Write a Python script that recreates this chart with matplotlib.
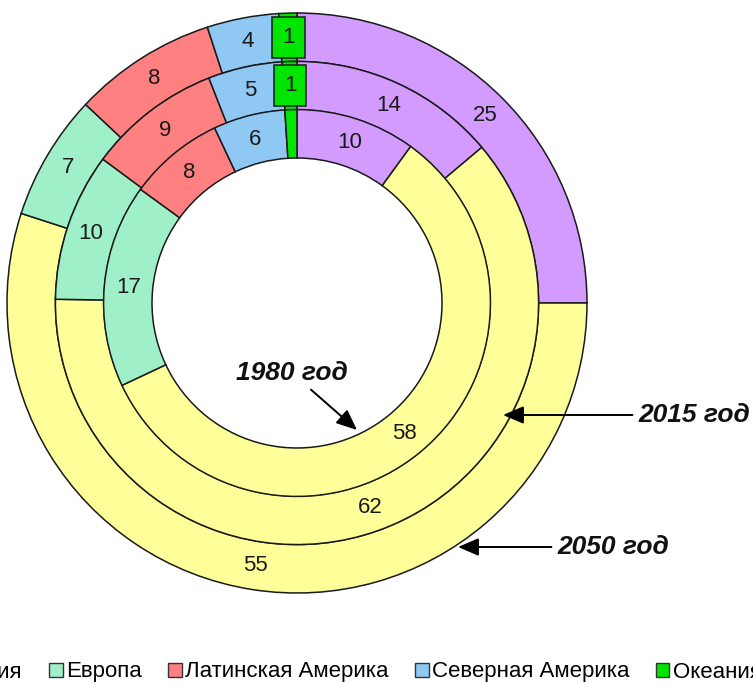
import numpy as np
import matplotlib
matplotlib.use("Agg")
import matplotlib.pyplot as plt
from matplotlib.patches import Patch

plt.rcParams['font.family'] = ['Liberation Sans', 'DejaVu Sans']

# regions, clockwise from 12 o'clock
regions = ['Африка', 'Азия', 'Европа', 'Латинская Америка', 'Северная Америка', 'Океания']
colors = ['#d49bff', '#ffff99', '#9ff0c8', '#ff8080', '#90c8f4', '#00e600']

# share of world population, %
years = ['1980 год', '2015 год', '2050 год']
v1980 = [10, 58, 17, 8, 6, 1]
v2015 = [14, 62, 10, 9, 5, 1]
v2050 = [25, 55, 7, 8, 4, 1]

fig = plt.figure(figsize=(7.53, 6.83), dpi=100)
W, H = 753, 683
cx, cy, R = 297, 303, 290  # pixel centre / outer radius of the donut
ax = fig.add_axes([(cx - R) / W, (H - cy - R) / H, 2 * R / W, 2 * R / H])

rings = [(v2050, 1.0), (v2015, 0.833), (v1980, 0.667)]
width = 0.167

for vals, r in rings:
    wedges, _ = ax.pie(vals, radius=r, colors=colors, startangle=90, counterclock=False,
                       wedgeprops=dict(width=width, edgecolor='#1a1a1a', linewidth=1.1))
    rm = r - width / 2
    for i, (w, v) in enumerate(zip(wedges, vals)):
        ang = np.deg2rad((w.theta1 + w.theta2) / 2)
        x, y = rm * np.cos(ang), rm * np.sin(ang)
        if regions[i] == 'Океания':
            if r < 0.8:
                continue
            ax.text(x, y, str(v), ha='center', va='center', fontsize=16, color='#1a1a1a',
                    bbox=dict(boxstyle='square,pad=0.45', fc=colors[i], ec='#1a1a1a', lw=1.1))
        else:
            ax.text(x, y, str(v), ha='center', va='center', fontsize=16, color='#1a1a1a')

ax.set_xlim(-1, 1)
ax.set_ylim(-1, 1)
ax.set_aspect('equal')
ax.axis('off')

def px(x, y):
    return ((x - cx) / R, (cy - y) / R)

arrow = dict(arrowstyle='-|>,head_length=0.7,head_width=0.3', color='black', lw=1.4,
             shrinkA=2, shrinkB=0, mutation_scale=18)
tfont = dict(fontsize=19, fontweight='bold', fontstyle='italic', color='#111111')
ax.annotate(years[0], xy=px(357, 430), xytext=px(292, 373), ha='center', va='center',
            arrowprops=arrow, annotation_clip=False, **tfont)
ax.annotate(years[1], xy=px(503, 415), xytext=px(638, 415), ha='left', va='center',
            arrowprops=arrow, annotation_clip=False, **tfont)
ax.annotate(years[2], xy=px(458, 547), xytext=px(557, 547), ha='left', va='center',
            arrowprops=arrow, annotation_clip=False, **tfont)

handles = [Patch(facecolor=c, edgecolor='#333333', lw=1.0) for c in colors]
leg = fig.legend(handles, regions, ncol=6, loc='center left', bbox_to_anchor=(0, 672 / H),
                 bbox_transform=fig.transFigure, frameon=False, fontsize=16,
                 handlelength=0.6, handleheight=0.6, handletextpad=0.15, columnspacing=1.2,
                 borderpad=0, borderaxespad=0)

# shift legend so that "Европа" starts where it does in the original
fig.canvas.draw()
bb = leg.get_texts()[2].get_window_extent()
shift = (66 - bb.x0) / W
leg.set_bbox_to_anchor((shift, (H - 672) / H), transform=fig.transFigure)

fig.savefig('out.png', dpi=100)
